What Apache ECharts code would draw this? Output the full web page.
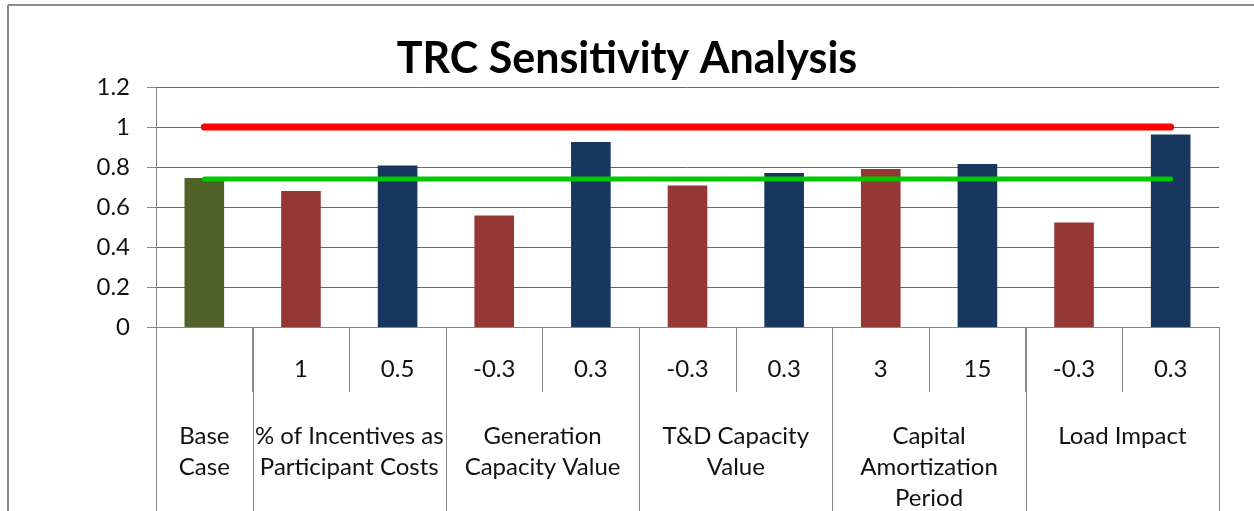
<!DOCTYPE html>
<html><head><meta charset="utf-8">
<script src="https://cdn.jsdelivr.net/npm/echarts@6/dist/echarts.min.js"></script>
<style>html,body{margin:0;padding:0;background:#fff}#c{width:1254px;height:511px}</style>
</head><body><div id="c"></div><script>
// ---- data ----
const categoryIds = ['c0','c1','c2','c3','c4','c5','c6','c7','c8','c9','c10'];
const subLabels = ['', '1', '0.5', '-0.3', '0.3', '-0.3', '0.3', '3', '15', '-0.3', '0.3'];
const groupNames = ['Base\nCase', '% of Incentives as\nParticipant Costs', 'Generation\nCapacity Value', 'T&D Capacity\nValue', 'Capital\nAmortization\nPeriod', 'Load Impact'];
const groupSizes = [1, 2, 2, 2, 2, 2];
const baseValues = [0.745, null, null, null, null, null, null, null, null, null, null];
const lowValues  = [null, 0.68, null, 0.558, null, 0.707, null, 0.79, null, 0.522, null];
const highValues = [null, null, 0.808, null, 0.925, null, 0.77, null, 0.815, null, 0.963];
const breakEvenLine = [1, 1, 1, 1, 1, 1, 1, 1, 1, 1, 1];
const baseCaseLine = [0.74, 0.74, 0.74, 0.74, 0.74, 0.74, 0.74, 0.74, 0.74, 0.74, 0.74];
const yMin = 0, yMax = 1.2, yStep = 0.2;
const titleText = 'TRC Sensitivity Analysis';

const FONT = 'Lato, "Open Sans", sans-serif';
const AX = '#868686';
const TXT = '#111111';
const chart = echarts.init(document.getElementById('c'), null, {renderer: 'canvas'});
const option = {
  animation: false,
  backgroundColor: '#ffffff',
  title: {
    text: titleText, left: 'center', top: 33,
    textStyle: {fontFamily: FONT, fontSize: 43, fontWeight: 'bold', color: '#000'}
  },
  grid: {left: 156, right: 35, top: 87, bottom: 184, containLabel: false},
  xAxis: {
    type: 'category', data: categoryIds,
    axisLine: {lineStyle: {color: AX, width: 1}},
    axisTick: {show: true, length: 65, lineStyle: {color: AX}},
    axisLabel: {
      formatter: (v, i) => subLabels[i], interval: 0, margin: 30,
      fontFamily: FONT, fontSize: 24, color: TXT, lineHeight: 24
    },
    splitLine: {show: false}
  },
  yAxis: {
    type: 'value', min: yMin, max: yMax, interval: yStep,
    axisLine: {show: true, lineStyle: {color: AX}},
    axisTick: {show: true, length: 9, lineStyle: {color: AX}},
    axisLabel: {margin: 26, fontFamily: FONT, fontSize: 24, color: TXT},
    splitLine: {lineStyle: {color: '#3d6fb6', width: 1}}
  },
  series: [
    {name: 'Base', type: 'bar', stack: 's', data: baseValues, barWidth: '41%',
     itemStyle: {color: '#4f6228'}},
    {name: 'Low', type: 'bar', stack: 's', data: lowValues, barWidth: '41%',
     itemStyle: {color: '#953735'}},
    {name: 'High', type: 'bar', stack: 's', data: highValues, barWidth: '41%',
     itemStyle: {color: '#17375e'}},
    {name: 'Break-even', type: 'line', data: breakEvenLine, symbol: 'none', z: 5,
     lineStyle: {color: '#ff0000', width: 7, cap: 'round'}},
    {name: 'Base line', type: 'line', data: baseCaseLine, symbol: 'none', z: 5,
     lineStyle: {color: '#00c800', width: 5, cap: 'round'}}
  ]
};
chart.setOption(option);

// ---- table lines and group labels, positioned via the axis scale ----
const c0 = chart.convertToPixel({xAxisIndex: 0}, 0);
const c1 = chart.convertToPixel({xAxisIndex: 0}, 1);
const band = c1 - c0;
const y0 = chart.convertToPixel({yAxisIndex: 0}, 0);
const H = chart.getHeight(), W = chart.getWidth();
const graphics = [];
let idx = 0;
const bounds = [0];
groupSizes.forEach(s => { idx += s; bounds.push(idx); });
bounds.forEach(b => {
  const x = Math.round(c0 - band / 2 + b * band) + 0.5;
  graphics.push({type: 'line', shape: {x1: x, y1: y0, x2: x, y2: H},
    style: {stroke: AX, lineWidth: 1}, silent: true});
});
idx = 0;
groupSizes.forEach((s, g) => {
  const cx = c0 - band / 2 + (idx + s / 2) * band;
  idx += s;
  graphics.push({type: 'text', x: cx, y: y0 + 93.5, silent: true,
    style: {text: groupNames[g], font: '24px ' + FONT, fill: TXT,
      align: 'center', verticalAlign: 'top', lineHeight: 31}});
});
// outer chart frame
graphics.push({type: 'line', shape: {x1: 8, y1: 5, x2: W, y2: 5}, style: {stroke: '#8a8a8a', lineWidth: 2}, silent: true});
graphics.push({type: 'line', shape: {x1: 8, y1: 5, x2: 8, y2: H}, style: {stroke: '#8a8a8a', lineWidth: 2}, silent: true});
chart.setOption({graphic: graphics});
</script></body></html>
